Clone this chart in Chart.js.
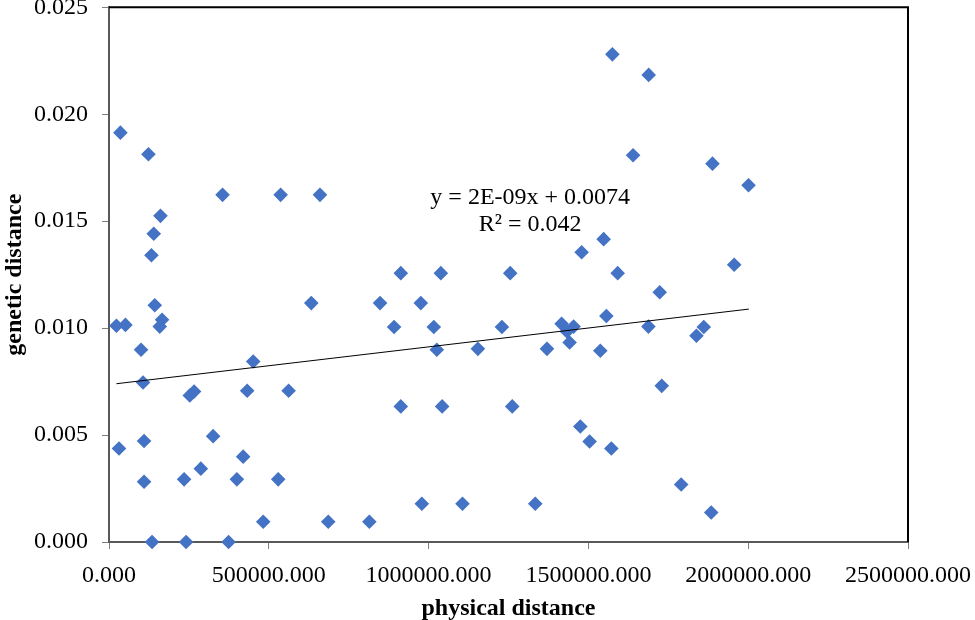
<!DOCTYPE html>
<html><head><meta charset="utf-8">
<script src="https://cdn.jsdelivr.net/npm/chart.js@4"></script>
<style>html,body{margin:0;padding:0;background:#fff}#wrap{width:975px;height:620px}</style>
</head><body><div id="wrap"><canvas id="c" width="975" height="620"></canvas></div>
<script>
const physicalDistance = [35700,123400,355300,537000,660100,161000,140000,132800,23200,51400,143200,166000,158800,100300,106500,252800,266300,432400,562000,451200,632900,31300,109700,325800,419800,287300,109700,235000,400100,529500,482500,686000,134700,241200,374100,1575000,1688700,1639800,1547700,1478800,913000,1038300,1255400,1591600,848100,975600,892000,1016300,1229400,1025700,1154200,1370400,1416100,1453700,1433000,1441200,1556200,1537300,1687800,913000,1042400,1261700,1474700,1503800,1571800,978800,1106000,1333700,814600,1888200,2001000,1956200,1723200,1861000,1838100,1729500,1790300,1884300];
const geneticDistance = [0.01914,0.01813,0.01623,0.01623,0.01623,0.01525,0.01441,0.01341,0.01011,0.01015,0.01107,0.01039,0.01007,0.00899,0.00746,0.00685,0.00704,0.00707,0.00707,0.00844,0.01117,0.00437,0.00472,0.00495,0.00399,0.00343,0.00282,0.00293,0.00293,0.00293,0.00095,0.00095,0,0,0,0.02280,0.02184,0.01808,0.01416,0.01355,0.01257,0.01257,0.01257,0.01257,0.01117,0.01117,0.01005,0.01005,0.01005,0.00899,0.00903,0.00903,0.01020,0.01007,0.00984,0.00933,0.01057,0.00894,0.01007,0.00634,0.00634,0.00634,0.00540,0.00470,0.00437,0.00179,0.00179,0.00179,0.00095,0.01769,0.01668,0.01296,0.01168,0.01005,0.00964,0.00730,0.00269,0.00138];
const trendX = [23200, 2002000];
const trendY = [0.00740, 0.01089];
const xTickValues = [0, 500000, 1000000, 1500000, 2000000, 2500000];
const yTickValues = [0, 0.005, 0.010, 0.015, 0.020, 0.025];
const equationLines = ['y = 2E-09x + 0.0074', 'R\u00B2 = 0.042'];
const equationAnchorX = 1318000;
const equationAnchorY = [0.01609, 0.01483];

const SERIF = "'Liberation Serif', 'Times New Roman', serif";

const framePlugin = {
  id: 'frame',
  afterDraw(chart) {
    const {ctx, chartArea: a, scales} = chart;
    ctx.save();
    ctx.strokeStyle = '#000';
    ctx.lineWidth = 2;
    ctx.beginPath();
    ctx.moveTo(a.left, a.top);
    ctx.lineTo(a.right, a.top);
    ctx.lineTo(a.right, a.bottom);
    ctx.stroke();
    ctx.fillStyle = '#000';
    ctx.font = '24px ' + SERIF;
    ctx.textAlign = 'center';
    ctx.textBaseline = 'middle';
    equationLines.forEach((t, i) => {
      ctx.fillText(t, scales.x.getPixelForValue(equationAnchorX), scales.y.getPixelForValue(equationAnchorY[i]));
    });
    ctx.restore();
  }
};

new Chart(document.getElementById('c'), {
  type: 'scatter',
  data: {
    datasets: [
      {
        type: 'line',
        data: trendX.map((x, i) => ({x, y: trendY[i]})),
        borderColor: '#000', borderWidth: 1, pointRadius: 0, fill: false, order: 0
      },
      {
        data: physicalDistance.map((x, i) => ({x, y: geneticDistance[i]})),
        pointStyle: 'rectRot', pointRadius: 7.3, pointHoverRadius: 7.3,
        backgroundColor: '#4472C4', borderColor: '#4472C4', borderWidth: 0, order: 1,
        clip: false
      }
    ]
  },
  options: {
    responsive: false,
    animation: false,
    layout: {padding: {left: 0, top: 7, right: 67, bottom: 0}},
    plugins: {legend: {display: false}, tooltip: {enabled: false}},
    scales: {
      x: {
        type: 'linear', min: 0, max: 2500000,
        afterBuildTicks: s => { s.ticks = xTickValues.map(v => ({value: v})); },
        afterFit: s => { s.height = 78; s.paddingLeft = 0; s.paddingRight = 0; },
        ticks: {callback: v => Number(v).toFixed(3), font: {family: SERIF, size: 24}, color: '#000', padding: 12, maxRotation: 0, autoSkip: false},
        grid: {drawOnChartArea: false, drawTicks: true, tickLength: 7, color: '#7f7f7f', lineWidth: 1},
        border: {display: true, color: '#595959', width: 2},
        title: {display: true, text: 'physical distance', font: {family: SERIF, size: 24, weight: 'bold'}, color: '#000', padding: {top: -3, bottom: -3}}
      },
      y: {
        type: 'linear', min: 0, max: 0.025,
        afterBuildTicks: s => { s.ticks = yTickValues.map(v => ({value: v})); },
        afterFit: s => { s.width = 109; s.paddingTop = 0; s.paddingBottom = 0; },
        ticks: {callback: v => Number(v).toFixed(3), font: {family: SERIF, size: 24}, color: '#000', padding: 14, autoSkip: false},
        grid: {drawOnChartArea: false, drawTicks: true, tickLength: 7, color: '#7f7f7f', lineWidth: 1},
        border: {display: true, color: '#595959', width: 2},
        title: {display: true, text: 'genetic distance', font: {family: SERIF, size: 24, weight: 'bold'}, color: '#000', padding: 0}
      }
    }
  },
  plugins: [framePlugin]
});
</script>
</body></html>
